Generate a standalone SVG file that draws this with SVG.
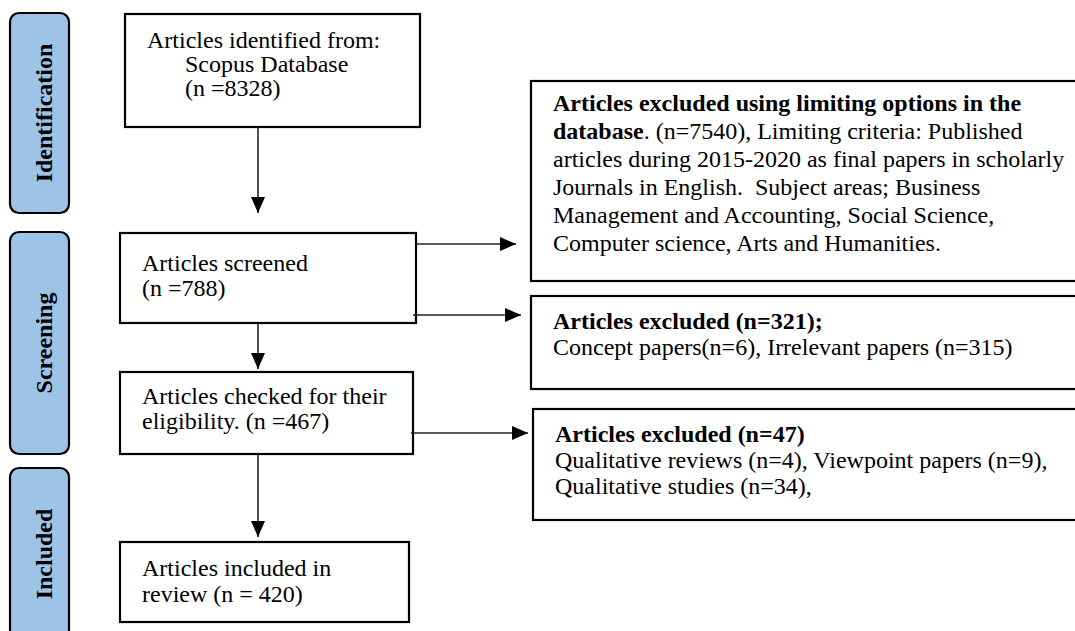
<svg xmlns="http://www.w3.org/2000/svg" width="1075" height="631" viewBox="0 0 1075 631">
<style>
.pill{fill:#9DC3E6;stroke:#000;stroke-width:2.2}
.box{fill:#fff;stroke:#000;stroke-width:2.2}
.t{font-family:"Liberation Serif","Times New Roman",serif;font-size:24px;fill:#000}
.b{font-weight:bold}
.pt{font-family:"Liberation Serif","Times New Roman",serif;font-size:24px;font-weight:bold;fill:#000;text-anchor:middle}
.c{stroke:#222;stroke-width:1.6;fill:none}
</style>
<defs>
<marker id="ah" markerWidth="16" markerHeight="14" refX="16" refY="7" orient="auto" markerUnits="userSpaceOnUse">
<path d="M0,0 L16,7 L0,14 Z" fill="#000"/>
</marker>
</defs>
<rect width="1075" height="631" fill="#fff"/>
<g id="stage-identification">
<rect class="pill" x="10" y="13" width="59" height="200" rx="9"/>
<text class="pt" transform="translate(52,113) rotate(-90)">Identification</text>
</g>
<g id="stage-screening">
<rect class="pill" x="10" y="232" width="59" height="222" rx="9"/>
<text class="pt" transform="translate(52,343) rotate(-90)">Screening</text>
</g>
<g id="stage-included">
<rect class="pill" x="10" y="468" width="59" height="175" rx="9"/>
<text class="pt" transform="translate(52,554) rotate(-90)">Included</text>
</g>
<g id="identified">
<rect class="box" x="125" y="14" width="295" height="113"/>
<text class="t" x="147" y="48">Articles identified from:</text>
<text class="t" x="185" y="72">Scopus Database</text>
<text class="t" x="185" y="96">(n =8328)</text>
</g>
<g id="screened">
<rect class="box" x="120" y="233" width="296" height="90"/>
<text class="t" x="142" y="271">Articles screened</text>
<text class="t" x="142" y="296">(n =788)</text>
</g>
<g id="eligibility">
<rect class="box" x="120" y="372" width="293" height="82"/>
<text class="t" x="142" y="404">Articles checked for their</text>
<text class="t" x="142" y="429">eligibility. (n =467)</text>
</g>
<g id="included">
<rect class="box" x="120" y="542" width="289" height="80"/>
<text class="t" x="142" y="576">Articles included in</text>
<text class="t" x="142" y="602">review (n = 420)</text>
</g>
<g id="excluded-limits">
<rect class="box" x="531" y="81" width="560" height="200"/>
<text class="t b" x="553" y="111">Articles excluded using limiting options in the</text>
<text class="t" x="553" y="139"><tspan class="b">database</tspan>. (n=7540), Limiting criteria: Published</text>
<text class="t" x="553" y="167">articles during 2015-2020 as final papers in scholarly</text>
<text class="t" x="553" y="195" xml:space="preserve">Journals in English.  Subject areas; Business</text>
<text class="t" x="553" y="223">Management and Accounting, Social Science,</text>
<text class="t" x="553" y="251">Computer science, Arts and Humanities.</text>
</g>
<g id="excluded-321">
<rect class="box" x="531" y="296" width="560" height="93"/>
<text class="t b" x="553" y="329">Articles excluded (n=321);</text>
<text class="t" x="553" y="355">Concept papers(n=6), Irrelevant papers (n=315)</text>
</g>
<g id="excluded-47">
<rect class="box" x="533" y="409" width="560" height="111"/>
<text class="t b" x="555" y="442">Articles excluded (n=47)</text>
<text class="t" x="555" y="468">Qualitative reviews (n=4), Viewpoint papers (n=9),</text>
<text class="t" x="555" y="494">Qualitative studies (n=34),</text>
</g>
<g id="connectors">
<line class="c" x1="258" y1="127" x2="258" y2="213" marker-end="url(#ah)"/>
<line class="c" x1="258" y1="323" x2="258" y2="369" marker-end="url(#ah)"/>
<line class="c" x1="258" y1="454" x2="258" y2="537" marker-end="url(#ah)"/>
<line class="c" x1="416" y1="244" x2="516" y2="244" marker-end="url(#ah)"/>
<line class="c" x1="413" y1="315" x2="521" y2="315" marker-end="url(#ah)"/>
<line class="c" x1="411" y1="433" x2="528" y2="433" marker-end="url(#ah)"/>
</g>
</svg>
